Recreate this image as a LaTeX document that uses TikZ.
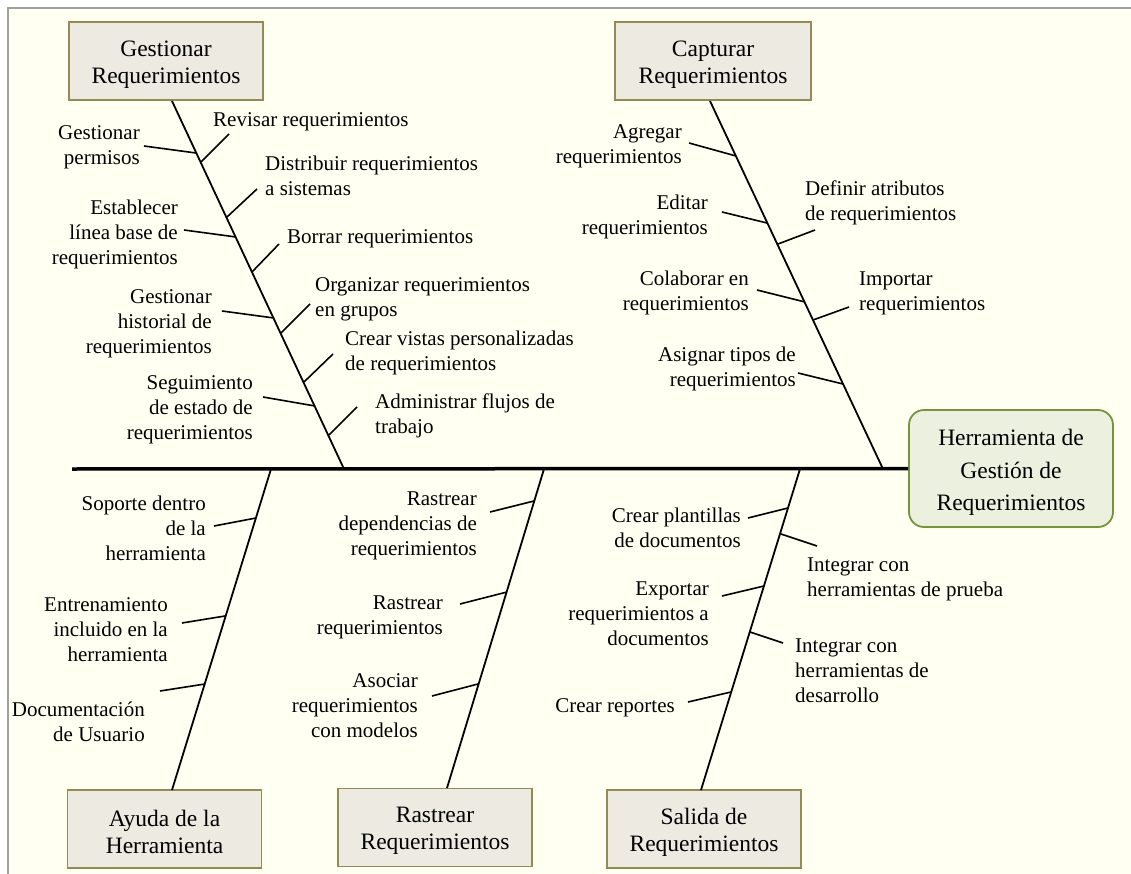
\documentclass[tikz,border=0pt]{standalone}
\usepackage{fontspec}
\setmainfont{Liberation Serif}
\usetikzlibrary{calc}
\definecolor{paper}{HTML}{FFFFF2}
\definecolor{framegray}{HTML}{A0A0A0}
\definecolor{catfill}{HTML}{ECEAE1}
\definecolor{catline}{HTML}{948A54}
\definecolor{headfill}{HTML}{EBF1DE}
\definecolor{headline}{HTML}{77933C}
% extra height on a first line, to sit box texts a little lower
\newcommand\firstlinelift[1]{\rule{0pt}{#1}}
\begin{document}
\begin{tikzpicture}[x=1pt,y=-1pt,
  catbox/.style={draw=catline, fill=catfill, line width=1.6pt, minimum width=194pt,
    minimum height=78pt, inner sep=0pt, align=center, font=\fontsize{23.5}{27}\selectfont},
  headbox/.style={draw=headline, fill=headfill, line width=1.8pt, rounded corners=15pt,
    minimum width=204pt, minimum height=117pt, inner sep=0pt, align=center,
    font=\fontsize{23.5}{32.5}\selectfont},
  lbl/.style={inner sep=0pt, yshift=-3pt, font=\fontsize{21}{25}\selectfont},
  lblL/.style={lbl, anchor=east, align=right},
  lblR/.style={lbl, anchor=west, align=left},
  spine/.style={line width=3.5pt},
  bone/.style={line width=1.8pt},
  twig/.style={line width=1.6pt}]

% page, paper and frame
\useasboundingbox (0,0) rectangle (1131,874);
\clip (0,0) rectangle (1131,874);
\fill[white] (0,0) rectangle (1131,874);
\draw[framegray, line width=2pt, fill=paper] (8,8) rectangle (1160,900);

% effect and category boxes
\node[headbox] (head) at (1011,468.5) {\firstlinelift{24.5pt}Herramienta de\\Gestión de\\Requerimientos};
\node[catbox] (gbox) at (166,61)    {\firstlinelift{22.5pt}Gestionar\\Requerimientos};
\node[catbox, minimum width=196pt] (cbox) at (713,61) {\firstlinelift{22.5pt}Capturar\\Requerimientos};
\node[catbox] (abox) at (164.5,829) {\firstlinelift{22.5pt}Ayuda de la\\Herramienta};
\node[catbox] (rbox) at (435,827.5) {\firstlinelift{22.5pt}Rastrear\\Requerimientos};
\node[catbox] (sbox) at (704,829)   {\firstlinelift{22.5pt}Salida de\\Requerimientos};

% spine and main bones
\coordinate (tail) at (72,469);
\draw[spine] (tail) -- (head.west);
\coordinate (gtop) at (172,101); \coordinate (gbot) at (344,469);
\coordinate (ctop) at (710,101); \coordinate (cbot) at (883,469);
\coordinate (atop) at (271,469); \coordinate (abot) at (172,790);
\coordinate (rtop) at (544,469); \coordinate (rbot) at (447,788);
\coordinate (stop) at (800,469); \coordinate (sbot) at (701,790);
\draw[bone] (gtop) -- (gbot);
\draw[bone] (ctop) -- (cbot);
\draw[bone] (atop) -- (abot);
\draw[bone] (rtop) -- (rbot);
\draw[bone] (stop) -- (sbot);

% small bones: point on the main bone / free end
\foreach \n/\ax/\ay/\bx/\by in {
  g1/196/153/144/146, g2/201/162/229/134, g3/227/217/257/189,
  g4/236/237/184/230, g5/252/272/279/244, g6/274/318/222/311,
  g7/281/333/310/304, g8/304/382/333/354, g9/315/406/263/397,
  g10/329/435/357/407,
  c1/736/156/689/143, c2/767/223/722/212, c3/778/244/815/230,
  c4/805/302/757/290, c5/813/320/849/307, c6/843/384/798/373,
  a1/256/518/214/526, a2/225/616/182/623, a3/205/684/160/691,
  r1/534/501/490/512, r2/507/592/460/604, r3/478/684/432/696,
  s1/788/508/748/518, s2/781/534/817/546, s3/764/586/722/596,
  s4/750/632/783/643, s5/731/692/688/702}
{
  \coordinate (\n-on) at (\ax,\ay);
  \coordinate (\n-end) at (\bx,\by);
  \draw[twig] (\n-on) -- (\n-end);
}

% labels: Gestionar Requerimientos
\node[lblL] (g1t)  at (140,144) {Gestionar\\permisos};
\node[lblR] (g2t)  at (213,119) {Revisar requerimientos};
\node[lblR] (g3t)  at (265,173) {Distribuir requerimientos\\a sistemas};
\node[lblL] (g4t)  at (178,231) {Establecer\\línea base de\\requerimientos};
\node[lblR] (g5t)  at (287,236) {Borrar requerimientos};
\node[lblR] (g7t)  at (315,296) {Organizar requerimientos\\en grupos};
\node[lblL] (g6t)  at (212,321) {Gestionar\\historial de\\requerimientos};
\node[lblR] (g8t)  at (345,350) {Crear vistas personalizadas\\de requerimientos};
\node[lblL] (g9t)  at (253,407) {Seguimiento\\de estado de\\requerimientos};
\node[lblR] (g10t) at (375,413) {Administrar flujos de\\trabajo};

% labels: Capturar Requerimientos
\node[lblL] (c1t) at (682,143) {Agregar\\requerimientos};
\node[lblL] (c2t) at (708,214) {Editar\\requerimientos};
\node[lblR] (c3t) at (805,200) {Definir atributos\\de requerimientos};
\node[lblL] (c4t) at (749,290) {Colaborar en\\requerimientos};
\node[lblR] (c5t) at (859,290) {Importar\\requerimientos};
\node[lblL] (c6t) at (796,366) {Asignar tipos de\\requerimientos};

% labels: Ayuda de la Herramienta
\node[lblL] (a1t) at (206,525) {Soporte dentro\\de la\\herramienta};
\node[lblL] (a2t) at (168,627) {Entrenamiento\\incluido en la\\herramienta};
\node[lblL] (a3t) at (145,719) {Documentación\\de Usuario};

% labels: Rastrear Requerimientos
\node[lblL] (r1t) at (477,523) {Rastrear\\dependencias de\\requerimientos};
\node[lblL] (r2t) at (443,614) {Rastrear\\requerimientos};
\node[lblL] (r3t) at (418,703) {Asociar\\requerimientos\\con modelos};

% labels: Salida de Requerimientos
\node[lblL] (s1t) at (741,525) {Crear plantillas\\de documentos};
\node[lblR] (s2t) at (807,576) {Integrar con\\herramientas de prueba};
\node[lblL] (s3t) at (709,611) {Exportar\\requerimientos a\\documentos};
\node[lblR] (s4t) at (795,668) {Integrar con\\herramientas de\\desarrollo};
\node[lblL] (s5t) at (675,705) {Crear reportes};
\end{tikzpicture}
\end{document}
